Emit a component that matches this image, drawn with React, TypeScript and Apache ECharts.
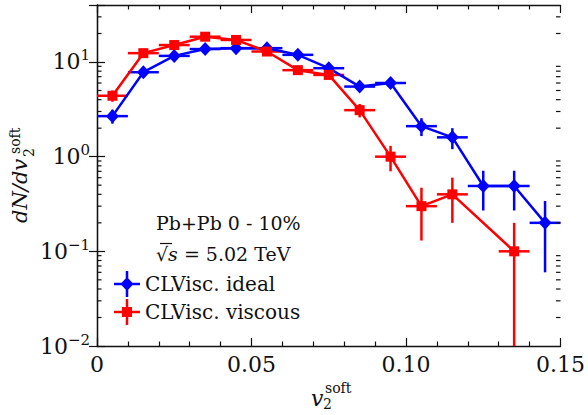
import React, { useEffect, useRef } from 'react'
import * as echarts from 'echarts'

// bin centres of v2^soft
const idealX = [0.005, 0.015, 0.025, 0.035, 0.045, 0.055, 0.065, 0.075, 0.085, 0.095, 0.105, 0.115, 0.125, 0.135, 0.145]
const idealValues = [2.68, 7.8, 11.6, 13.7, 14.0, 14.0, 11.9, 8.6, 5.5, 6.0, 2.1, 1.6, 0.49, 0.49, 0.2]
const idealErrors = [0.45, 0.8, 0.8, 0.8, 0.8, 0.8, 0.7, 0.6, 0.4, 0.6, 0.45, 0.4, 0.22, 0.22, 0.14]

const viscousX = [0.005, 0.015, 0.025, 0.035, 0.045, 0.055, 0.065, 0.075, 0.085, 0.095, 0.105, 0.115, 0.135]
const viscousValues = [4.4, 12.4, 15.1, 18.5, 17.1, 12.9, 8.2, 7.3, 3.1, 1.0, 0.3, 0.4, 0.1]
const viscousErrors = [0.6, 0.8, 0.9, 1.0, 1.0, 0.8, 0.6, 0.6, 0.5, 0.3, 0.17, 0.2, 0.1]

const binHalfWidth = 0.005
const yMinorTicks = [
  0.02, 0.03, 0.04, 0.05, 0.06, 0.07, 0.08, 0.09,
  0.2, 0.3, 0.4, 0.5, 0.6, 0.7, 0.8, 0.9,
  2, 3, 4, 5, 6, 7, 8, 9,
  20, 30,
]

const BLUE = '#0000FF'
const RED = '#FF0000'
const INK = '#111111'
const FONT = 'DejaVu Serif'

const idealIcon =
  'path://M0,11.75h26v2.5H0z M11.75,0h2.5v26h-2.5z M13,6l6.5,7l-6.5,7l-6.5,-7z'
const viscousIcon =
  'path://M0,11.75h26v2.5H0z M11.75,0h2.5v26h-2.5z M8,8h10v10H8z'

function errorBars(color: string) {
  return (params: any, api: any) => {
    const x = api.value(0)
    const y = api.value(1)
    const e = api.value(2)
    const cs = params.coordSys
    const left = api.coord([x - binHalfWidth, y])
    const right = api.coord([x + binHalfWidth, y])
    const top = api.coord([x, y + e])
    const low = api.coord([x, Math.max(y - e, 1e-4)])
    const bottomY = Math.min(low[1], cs.y + cs.height)
    const style = { stroke: color, lineWidth: 2.5 }
    return {
      type: 'group',
      children: [
        { type: 'line', shape: { x1: left[0], y1: left[1], x2: right[0], y2: right[1] }, style },
        { type: 'line', shape: { x1: top[0], y1: top[1], x2: top[0], y2: bottomY }, style },
      ],
    }
  }
}

function minorTicks(params: any, api: any) {
  const cs = params.coordSys
  const y = api.coord([0, api.value(1)])[1]
  const style = { stroke: INK, lineWidth: 1.2 }
  return {
    type: 'group',
    children: [
      { type: 'line', shape: { x1: cs.x, y1: y, x2: cs.x + 4.5, y2: y }, style },
      { type: 'line', shape: { x1: cs.x + cs.width, y1: y, x2: cs.x + cs.width - 4.5, y2: y }, style },
    ],
  }
}

function powerLabel(v: number) {
  const p = Math.log10(v)
  const r = Math.round(p)
  if (Math.abs(p - r) > 1e-6) return ''
  const exp = r < 0 ? '\u2212' + -r : String(r)
  return `{b|10}{s|${exp}}`
}

export default function App() {
  const chartRef = useRef<HTMLDivElement | null>(null)

  useEffect(() => {
    document.body.style.margin = '0'
    if (!chartRef.current) return
    const chart = echarts.init(chartRef.current, undefined, { renderer: 'svg' })

    const xAxisBase = {
      type: 'value' as const,
      min: 0,
      max: 0.15,
      interval: 0.05,
      axisLine: { lineStyle: { color: INK, width: 1.3 } },
      axisTick: { inside: true, length: 8, lineStyle: { color: INK, width: 1.2 } },
      minorTick: { show: true, splitNumber: 5, length: 4.5, lineStyle: { color: INK, width: 1.2 } },
      splitLine: { show: false },
    }
    const yAxisBase = {
      type: 'log' as const,
      logBase: 10,
      min: 0.01,
      max: 40,
      axisLine: { show: true, lineStyle: { color: INK, width: 1.3 } },
      axisTick: { show: true, inside: true, length: 8, lineStyle: { color: INK, width: 1.2 } },
      splitLine: { show: false },
    }

    const option: any = {
      animation: false,
      textStyle: { fontFamily: FONT },
      grid: { left: 97, top: 5, width: 469, height: 341 },
      xAxis: [
        {
          ...xAxisBase,
          position: 'bottom',
          axisLabel: {
            margin: 7,
            color: INK,
            fontFamily: FONT,
            fontSize: 22,
            formatter: (v: number) => (v === 0 ? '0' : v.toFixed(2)),
          },
        },
        { ...xAxisBase, position: 'top', axisLabel: { show: false } },
      ],
      yAxis: [
        {
          ...yAxisBase,
          position: 'left',
          axisLabel: {
            margin: 7,
            fontFamily: FONT,
            formatter: powerLabel,
            rich: {
              b: { fontFamily: FONT, fontSize: 22, color: INK, lineHeight: 28 },
              s: { fontFamily: FONT, fontSize: 15, color: INK, verticalAlign: 'top' },
            },
          },
        },
        { ...yAxisBase, position: 'right', axisLabel: { show: false } },
      ],
      legend: {
        orient: 'vertical',
        left: 109,
        top: 266,
        itemWidth: 26,
        itemHeight: 26,
        itemGap: 2,
        selectedMode: false,
        textStyle: { fontFamily: FONT, fontSize: 20, color: INK },
        data: [
          { name: 'CLVisc. ideal', icon: idealIcon },
          { name: 'CLVisc. viscous', icon: viscousIcon },
        ],
      },
      graphic: [
        {
          type: 'group',
          x: 0,
          y: 0,
          children: [
            {
              type: 'text',
              x: 156,
              y: 223,
              style: {
                text: 'Pb+Pb 0 - 10%',
                fontFamily: FONT,
                fontSize: 19,
                fill: INK,
                textVerticalAlign: 'middle',
              },
            },
            {
              type: 'text',
              x: 156,
              y: 254,
              style: {
                text: '{r|\u221A}{i|s}{n| = 5.02 TeV}',
                fill: INK,
                fontFamily: FONT,
                fontSize: 19,
                textVerticalAlign: 'middle',
                rich: {
                  r: { fontFamily: FONT, fontSize: 19, fill: INK },
                  i: { fontFamily: FONT, fontSize: 19, fontStyle: 'italic', fill: INK },
                  n: { fontFamily: FONT, fontSize: 19, fill: INK },
                },
              },
            },
            {
              type: 'line',
              shape: { x1: 160, y1: 243.5, x2: 172, y2: 243.5 },
              style: { stroke: INK, lineWidth: 1.2 },
            },
          ],
        },
        {
          type: 'group',
          x: 311,
          y: 398,
          children: [
            { type: 'text', x: 0, y: 0, style: { text: 'v', fontFamily: FONT, fontSize: 22, fontStyle: 'italic', fill: INK, textVerticalAlign: 'middle' } },
            { type: 'text', x: 12, y: 6, style: { text: '2', fontFamily: FONT, fontSize: 14, fill: INK, textVerticalAlign: 'middle' } },
            { type: 'text', x: 14, y: -10, style: { text: 'soft', fontFamily: FONT, fontSize: 14, fill: INK, textVerticalAlign: 'middle' } },
          ],
        },
        {
          type: 'group',
          x: 27,
          y: 225,
          rotation: Math.PI / 2,
          children: [
            { type: 'text', x: 2, y: -7, style: { text: 'dN/dv', fontFamily: FONT, fontSize: 21, fontStyle: 'italic', fill: INK, textVerticalAlign: 'middle' } },
            { type: 'text', x: 71, y: -12, style: { text: 'soft', fontFamily: FONT, fontSize: 14, fill: INK, textVerticalAlign: 'middle' } },
            { type: 'text', x: 68, y: 2, style: { text: '2', fontFamily: FONT, fontSize: 14, fill: INK, textVerticalAlign: 'middle' } },
          ],
        },
      ],
      series: [
        {
          name: 'ideal errors',
          type: 'custom',
          renderItem: errorBars(BLUE),
          data: idealX.map((x, i) => [x, idealValues[i], idealErrors[i]]),
          z: 2,
          silent: true,
        },
        {
          name: 'viscous errors',
          type: 'custom',
          renderItem: errorBars(RED),
          data: viscousX.map((x, i) => [x, viscousValues[i], viscousErrors[i]]),
          z: 2,
          silent: true,
        },
        {
          name: 'CLVisc. ideal',
          type: 'line',
          data: idealX.map((x, i) => [x, idealValues[i]]),
          symbol: 'diamond',
          symbolSize: [13, 14],
          lineStyle: { color: BLUE, width: 2.5 },
          itemStyle: { color: BLUE },
          z: 3,
        },
        {
          name: 'CLVisc. viscous',
          type: 'line',
          data: viscousX.map((x, i) => [x, viscousValues[i]]),
          symbol: 'rect',
          symbolSize: 10,
          lineStyle: { color: RED, width: 2.5 },
          itemStyle: { color: RED },
          z: 4,
        },
        {
          name: 'minor ticks',
          type: 'custom',
          renderItem: minorTicks,
          data: yMinorTicks.map((v) => [0, v]),
          silent: true,
          z: 5,
        },
      ],
    }

    chart.setOption(option)
    return () => {
      chart.dispose()
    }
  }, [])

  return <div ref={chartRef} style={{ width: 588, height: 415 }} />
}
